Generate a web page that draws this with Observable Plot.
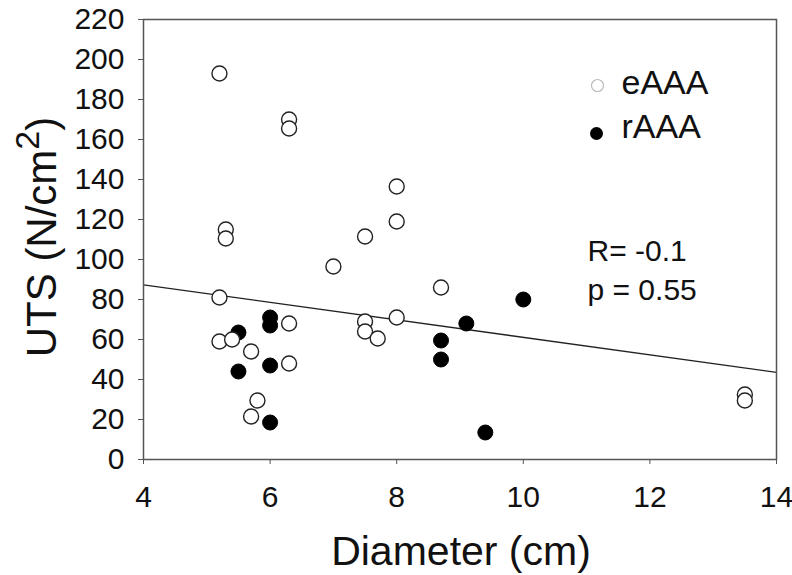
<!DOCTYPE html>
<html>
<head>
<meta charset="utf-8">
<script src="https://cdn.jsdelivr.net/npm/d3@7"></script>
<script src="https://cdn.jsdelivr.net/npm/@observablehq/plot@0.6"></script>
<style>
  html, body { margin: 0; padding: 0; background: #fff; }
</style>
</head>
<body>
<div id="chart"></div>
<script>
// eAAA (open circles)
const eX = [5.2, 5.2, 5.2, 5.3, 5.3, 5.4, 5.7, 5.7, 5.8, 6.3, 6.3, 6.3, 6.3, 7.0, 7.5, 7.5, 7.5, 7.7, 8.0, 8.0, 8.0, 8.7, 13.5, 13.5];
const eY = [193, 81, 59, 115, 110.5, 60, 54, 21.5, 29.5, 170, 165.5, 68, 48, 96.5, 111.5, 69, 64, 60.5, 136.5, 119, 71, 86, 32.5, 29.5];
// rAAA (filled circles)
const rX = [5.5, 5.5, 6.0, 6.0, 6.0, 6.0, 8.7, 8.7, 9.1, 9.4, 10.0];
const rY = [63.5, 44, 71, 67, 47, 18.5, 59.5, 50, 68, 13.5, 80];
// regression line end points
const fitX = [4, 14];
const fitY = [87.3, 43.6];
// ticks
const xTicks = [4, 6, 8, 10, 12, 14];
const yTicks = [0, 20, 40, 60, 80, 100, 120, 140, 160, 180, 200, 220];
// texts
const seriesNames = ["eAAA", "rAAA"];
const statLines = ["R= -0.1", "p = 0.55"];
const xTitle = "Diameter (cm)";

const eData = eX.map((x, i) => ({x, y: eY[i]}));
const rData = rX.map((x, i) => ({x, y: rY[i]}));
const fitData = fitX.map((x, i) => ({x, y: fitY[i]}));

const font = "'Liberation Sans', Arial, sans-serif";

const chart = Plot.plot({
  width: 792,
  height: 575,
  marginLeft: 143,
  marginRight: 16,
  marginTop: 19,
  marginBottom: 116,
  style: {fontFamily: font, fontSize: "30px", color: "#111", background: "#fff", overflow: "hidden"},
  x: {domain: [4, 14], label: null},
  y: {domain: [0, 220], label: null},
  marks: [
    Plot.axisX({ticks: xTicks, tickSize: 5, tickPadding: 21, label: null, stroke: "#555", fill: "#111", fontSize: 30}),
    Plot.axisY({ticks: yTicks, tickSize: 5, tickPadding: 14, label: null, stroke: "#555", fill: "#111", fontSize: 30}),
    Plot.text([xTitle], {text: d => d, frameAnchor: "bottom", dx: 1, dy: 105, lineAnchor: "bottom", fontSize: 41, fill: "#111"}),
    Plot.line(fitData, {x: "x", y: "y", stroke: "#222", strokeWidth: 1.3}),
    Plot.dot(rData, {x: "x", y: "y", r: 7.5, fill: "#000", stroke: "#000", strokeWidth: 1}),
    Plot.dot(eData, {x: "x", y: "y", r: 7.5, fill: "#fff", stroke: "#222", strokeWidth: 1.4}),
    // legend
    Plot.dot([seriesNames[0]], {frameAnchor: "top-left", dx: 454, dy: 66, r: 6, fill: "#fff", stroke: "#bbb", strokeWidth: 1.2}),
    Plot.dot([seriesNames[1]], {frameAnchor: "top-left", dx: 453, dy: 114, r: 6.5, fill: "#000"}),
    Plot.text([seriesNames[0]], {text: d => d, frameAnchor: "top-left", dx: 478, dy: 74, textAnchor: "start", lineAnchor: "bottom", fontSize: 34, fill: "#111"}),
    Plot.text([seriesNames[1]], {text: d => d, frameAnchor: "top-left", dx: 478, dy: 118, textAnchor: "start", lineAnchor: "bottom", fontSize: 34, fill: "#111"}),
    // stats
    Plot.text([statLines[0]], {text: d => d, frameAnchor: "top-left", dx: 444, dy: 241, textAnchor: "start", lineAnchor: "bottom", fontSize: 30, fill: "#111"}),
    Plot.text([statLines[1]], {text: d => d, frameAnchor: "top-left", dx: 444, dy: 280, textAnchor: "start", lineAnchor: "bottom", fontSize: 30, fill: "#111"}),
    Plot.frame({stroke: "#555", strokeWidth: 1.5})
  ]
});

document.getElementById("chart").appendChild(chart);

// y-axis title with superscript
const yt = d3.select(chart).append("text")
  .attr("transform", "translate(56,237) rotate(-90)")
  .attr("text-anchor", "middle")
  .attr("font-family", font)
  .attr("font-size", 42)
  .attr("fill", "#111");
yt.append("tspan").text("UTS (N/cm");
yt.append("tspan").attr("dy", -17).attr("font-size", 34).text("2");
yt.append("tspan").attr("dy", 17).text(")");
</script>
</body>
</html>
